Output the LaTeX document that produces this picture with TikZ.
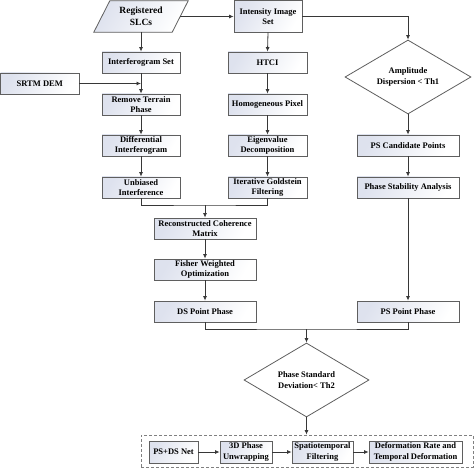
\documentclass[tikz,border=0pt]{standalone}
\usepackage{fontspec}
\setmainfont{Liberation Serif}
\usetikzlibrary{arrows.meta,shapes.geometric}
\definecolor{boxshade}{RGB}{222,226,238}
\definecolor{edgecol}{RGB}{55,55,55}
\definecolor{bordercol}{RGB}{95,95,95}
\tikzset{
  procbox/.style={draw=bordercol, line width=0.8pt, left color=boxshade, right color=white,
    shading angle=60, inner sep=0pt, align=center,
    font=\fontsize{8.5}{10.3}\selectfont\bfseries, text=black},
  decide/.style={draw=bordercol, line width=0.8pt, fill=white, shape=diamond, aspect=1.7,
    inner sep=0pt, align=center, font=\fontsize{8.5}{10.3}\selectfont\bfseries},
  arr/.style={draw=edgecol, line width=0.8pt, -{Latex[length=4.5pt,width=4pt]}},
  plain/.style={draw=edgecol, line width=0.8pt},
  grpbox/.style={draw=gray, line width=0.8pt, dash pattern=on 3pt off 2pt, inner sep=0pt}
}
\begin{document}
\begin{tikzpicture}[x=1pt,y=-1pt]
\useasboundingbox (0,0) rectangle (474,468);
% parallelogram
\node[inner sep=0pt, minimum width=78pt, minimum height=31pt, align=center,
  font=\fontsize{9.5}{11.5}\selectfont\bfseries] (reg) at (141,16.5) {Registered\\SLCs};
\path[draw=bordercol, line width=0.8pt, left color=boxshade, right color=white, shading angle=60]
  ([xshift=-8pt]reg.south west) -- ([xshift=-8pt]reg.south east)
  -- ([xshift=8pt]reg.north east) -- ([xshift=8pt]reg.north west) -- cycle;
\node[inner sep=0pt, align=center, font=\fontsize{9.5}{11.5}\selectfont\bfseries] at (reg) {Registered\\SLCs};

\node[procbox, minimum width=68pt, minimum height=31.5pt] (inten) at (268,16.25) {Intensity Image\\Set};
\node[procbox, minimum width=78pt, minimum height=21pt] (ifg) at (141,62.5) {Interferogram Set};
\node[procbox, minimum width=78.5pt, minimum height=21pt] (srtm) at (39.75,83.5) {SRTM DEM};
\node[procbox, minimum width=78pt, minimum height=21pt] (rtp) at (141,104.5) {Remove Terrain\\Phase};
\node[procbox, minimum width=78pt, minimum height=21pt] (diff) at (141,145.5) {Differential\\Interferogram};
\node[procbox, minimum width=78pt, minimum height=21pt] (unb) at (141,187.5) {Unbiased\\Interference};

\node[procbox, minimum width=79pt, minimum height=21pt] (htci) at (267.5,62.5) {HTCI};
\node[procbox, minimum width=79pt, minimum height=21pt] (hom) at (267.5,104.5) {Homogeneous Pixel};
\node[procbox, minimum width=79pt, minimum height=21pt] (eig) at (267.5,145.5) {Eigenvalue\\Decomposition};
\node[procbox, minimum width=79pt, minimum height=21pt] (igf) at (267.5,187.5) {Iterative Goldstein\\Filtering};

\node[procbox, minimum width=102pt, minimum height=21pt] (rcm) at (205,228.5) {Reconstructed Coherence\\Matrix};
\node[procbox, minimum width=102pt, minimum height=21pt] (fwo) at (205,269.5) {Fisher Weighted\\Optimization};
\node[procbox, minimum width=102pt, minimum height=21pt] (dsp) at (205,311.5) {DS Point Phase};

\node[decide, minimum width=126pt, minimum height=74pt] (amp) at (408,77) {Amplitude\\Dispersion {<} Th1};
\node[procbox, minimum width=102pt, minimum height=21pt] (psc) at (408,145.5) {PS Candidate Points};
\node[procbox, minimum width=102pt, minimum height=21pt] (psa) at (408,187.5) {Phase Stability Analysis};
\node[procbox, minimum width=102pt, minimum height=21pt] (psp) at (408,311.5) {PS Point Phase};

\node[decide, minimum width=125pt, minimum height=74pt] (psd) at (306.5,380) {Phase Standard\\Deviation{<} Th2};

\node[grpbox, minimum width=332pt, minimum height=32pt] (grp) at (307,451) {};
\node[procbox, minimum width=49pt, minimum height=22pt] (net) at (173.5,452) {PS+DS Net};
\node[procbox, minimum width=52pt, minimum height=22pt] (unw) at (246,452) {3D Phase\\Unwrapping};
\node[procbox, minimum width=61pt, minimum height=22pt] (stf) at (322.5,452) {Spatiotemporal\\Filtering};
\node[procbox, minimum width=93pt, minimum height=22pt] (dfr) at (415.5,452) {Deformation Rate and\\Temporal Deformation};

\coordinate (j1) at (205,205);
\coordinate (j2) at (306.5,329);

% connectors
\draw[arr] (reg.east) -- (reg.east -| inten.west);
\draw[arr] (reg.south) -- (ifg.north);
\draw[arr] (inten.east) -| (amp.north);
\draw[arr] (inten.south) -- (htci.north);
\draw[arr] (srtm.east) -- (srtm.east -| rtp.north);
\draw[arr] (ifg) -- (rtp);
\draw[arr] (rtp) -- (diff);
\draw[arr] (diff) -- (unb);
\draw[arr] (htci) -- (hom);
\draw[arr] (hom) -- (eig);
\draw[arr] (eig) -- (igf);
\draw[plain] (unb.south) |- (j1) -| (igf.south);
\draw[arr] (j1) -- (rcm.north);
\draw[arr] (rcm) -- (fwo);
\draw[arr] (fwo) -- (dsp);
\draw[arr] (amp.south) -- (psc.north);
\draw[arr] (psc) -- (psa);
\draw[arr] (psa) -- (psp);
\draw[plain] (dsp.south) |- (j2) -| (psp.south);
\draw[arr] (j2) -- (psd.north);
\draw[arr] (psd.south) -- (psd.south |- grp.north);
\draw[arr] (net) -- (unw);
\draw[arr] (unw) -- (stf);
\draw[arr] (stf) -- (dfr);
\end{tikzpicture}
\end{document}
